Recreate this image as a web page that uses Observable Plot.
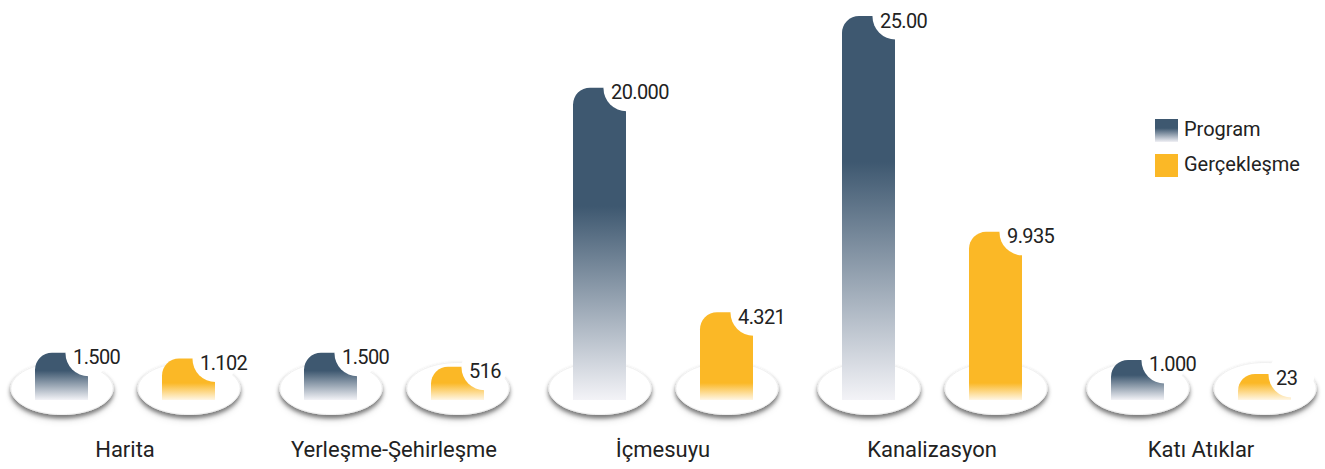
<!DOCTYPE html>
<html>
<head>
<meta charset="utf-8">
<script src="https://cdn.jsdelivr.net/npm/d3@7"></script>
<script src="https://cdn.jsdelivr.net/npm/@observablehq/plot@0.6"></script>
<style>
  body { margin: 0; background: #fff; }
  #wrap { position: relative; width: 1325px; height: 469px; overflow: hidden; font-family: Roboto, sans-serif; background: #fff; }
  [aria-description="bases"], [aria-label="bases"] { filter: url(#baseShadow); }
  [aria-description="values"] text, text[aria-label="values"] { letter-spacing: -0.6px; }
  .legend { position: absolute; left: 1155px; top: 119px; font: 20px Roboto, sans-serif; color: #222; }
  .legend .row { display: flex; align-items: center; height: 23px; margin-bottom: 12px; }
  .legend .sw { width: 23px; height: 23px; margin-right: 6px; flex: none; }
  .legend .lbl { position: relative; top: -2px; }
</style>
</head>
<body>
<div id="wrap">
  <svg width="0" height="0" style="position:absolute">
    <defs>
      <linearGradient id="gradProgram" x1="0" y1="0" x2="0" y2="1">
        <stop offset="0" stop-color="#3e5870"/>
        <stop offset="0.38" stop-color="#3e5870"/>
        <stop offset="1" stop-color="#f3f3f7"/>
      </linearGradient>
      <linearGradient id="gradActual" gradientUnits="userSpaceOnUse" x1="0" y1="383" x2="0" y2="401">
        <stop offset="0" stop-color="#fbb826"/>
        <stop offset="1" stop-color="#fffaf0"/>
      </linearGradient>
      <filter id="baseShadow" x="-20%" y="-40%" width="140%" height="190%">
        <feDropShadow dx="0" dy="3" stdDeviation="2.2" flood-color="#000" flood-opacity="0.32"/>
      </filter>
    </defs>
  </svg>
  <div id="chart"></div>
  <div class="legend">
    <div class="row"><div class="sw" style="background:linear-gradient(#3e5870 0%, #3e5870 40%, #f0f0f5 100%)"></div><span class="lbl">Program</span></div>
    <div class="row"><div class="sw" style="background:#fbb826"></div><span class="lbl">Gerçekleşme</span></div>
  </div>
</div>
<script>
const categories = ["Harita", "Yerleşme-Şehirleşme", "İçmesuyu", "Kanalizasyon", "Katı Atıklar"];
const series = ["Program", "Gerçekleşme"];
const programValues = [1500, 1500, 20000, 25000, 1000];
const actualValues = [1102, 516, 4321, 9935, 23];
const programLabels = ["1.500", "1.500", "20.000", "25.00", "1.000"];
const actualLabels = ["1.102", "516", "4.321", "9.935", "23"];

const rows = categories.flatMap((c, i) => [
  {category: c, series: series[0], value: programValues[i], label: programLabels[i]},
  {category: c, series: series[1], value: actualValues[i], label: actualLabels[i]}
]);

// bars rise from a floor slightly below zero (the platform)
const yFloor = -1800;

const ellipseSymbol = {
  draw(ctx, size) {
    const rx = Math.sqrt(size / Math.PI), ry = rx * 0.51, k = 0.5523;
    ctx.moveTo(rx, 0);
    ctx.bezierCurveTo(rx, ry * k, rx * k, ry, 0, ry);
    ctx.bezierCurveTo(-rx * k, ry, -rx, ry * k, -rx, 0);
    ctx.bezierCurveTo(-rx, -ry * k, -rx * k, -ry, 0, -ry);
    ctx.bezierCurveTo(rx * k, -ry, rx, -ry * k, rx, 0);
    ctx.closePath();
  }
};

const chart = Plot.plot({
  width: 1325,
  height: 469,
  marginTop: 16,
  marginBottom: 69,
  marginLeft: -11,
  marginRight: -10,
  style: {fontFamily: "Roboto, sans-serif", color: "#222", background: "transparent"},
  fx: {domain: categories, padding: 0},
  x: {domain: series, paddingInner: 0.586, paddingOuter: 0.345, axis: null},
  y: {domain: [yFloor, 25000], axis: null},
  marks: [
    Plot.dot(rows, {fx: "category", x: "series", y: () => yFloor, dy: -12, r: 51, symbol: ellipseSymbol, fill: "#ffffff", stroke: "#f1f1f1", strokeWidth: 1, ariaLabel: () => "bases", ariaDescription: "bases"}),
    Plot.barY(rows.filter(d => d.series === series[0]), {fx: "category", x: "series", y1: () => yFloor, y2: "value", fill: "url(#gradProgram)", rx1y1: 17}),
    Plot.barY(rows.filter(d => d.series === series[1]), {fx: "category", x: "series", y1: () => yFloor, y2: "value", fill: "url(#gradActual)", rx1y1: 17}),
    Plot.dot(rows, {fx: "category", x: "series", y: "value", r: 23, dx: 26.5, fill: "#fff"}),
    Plot.text(rows, {fx: "category", x: "series", y: "value", text: "label", dx: 11, dy: 11, textAnchor: "start", lineAnchor: "bottom", fontSize: 20, fill: "#222", ariaLabel: () => "values", ariaDescription: "values"}),
    Plot.axisFx({anchor: "bottom", tickSize: 0, tickPadding: 41, fontSize: 22, label: null})
  ]
});
document.getElementById("chart").append(chart);
</script>
</body>
</html>
